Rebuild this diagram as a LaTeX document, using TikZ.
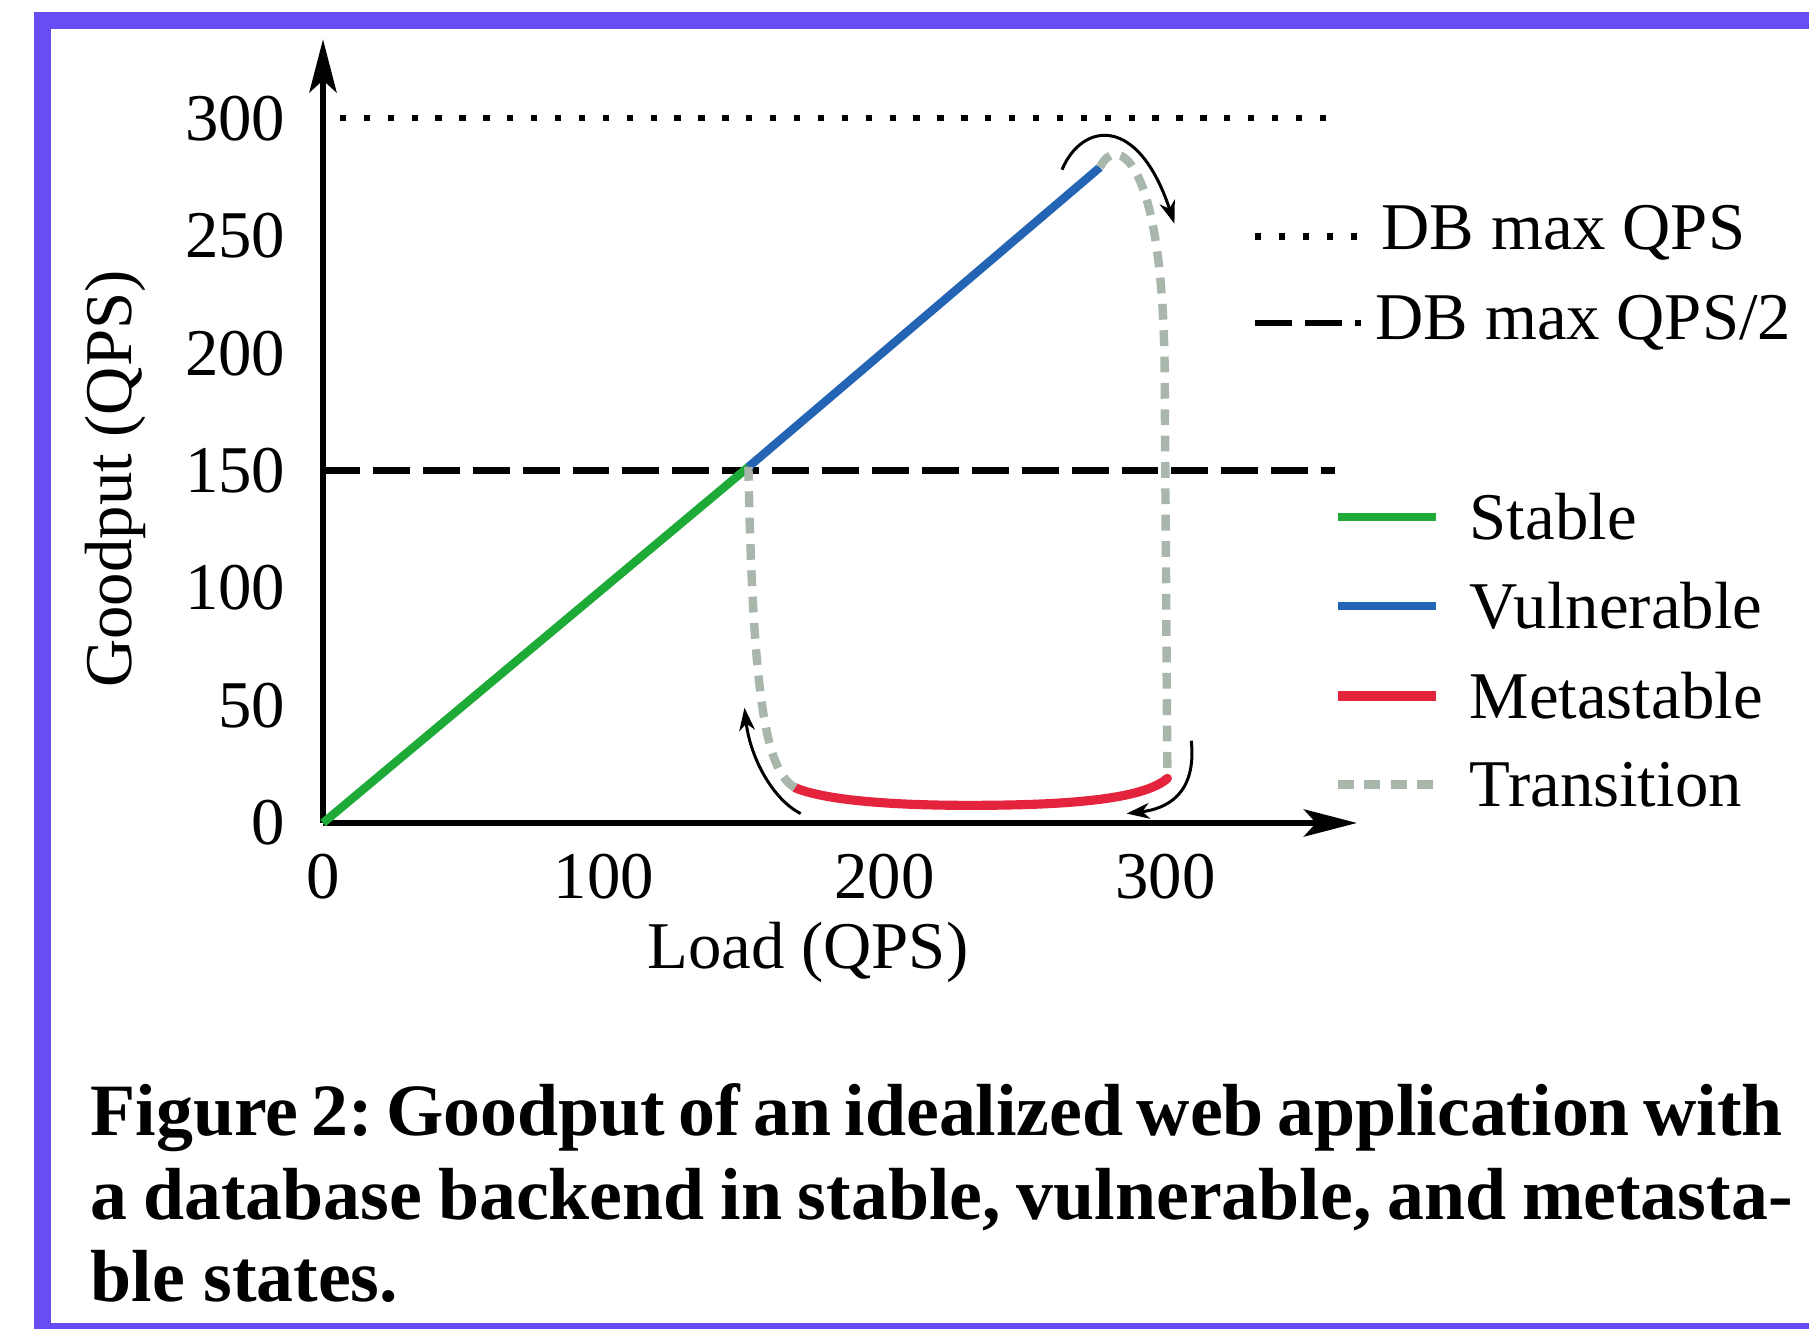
\documentclass[tikz,border=0pt]{standalone}
\usepackage{fontspec}
\setmainfont{Liberation Serif}
\usepackage{tikz}
\usetikzlibrary{arrows.meta,calc,positioning}
\definecolor{framePurple}{RGB}{106,76,245}
\definecolor{stableC}{RGB}{30,170,55}
\definecolor{vulnC}{RGB}{35,100,180}
\definecolor{metaC}{RGB}{228,35,60}
\definecolor{transC}{RGB}{168,182,172}
\tikzset{
  axisline/.style={line width=1.9pt,-{Stealth[length=0.53cm,width=0.27cm,inset=0.12cm]}},
  stableline/.style={stableC,line width=2.4pt},
  vulnline/.style={vulnC,line width=2.4pt},
  metaline/.style={metaC,line width=2.6pt,line cap=round},
  transline/.style={transC,line width=2.4pt,dash pattern=on 4.5pt off 3pt},
  maxdots/.style={line width=1.8pt,dash pattern=on 1.8pt off 5pt},
  halfdash/.style={line width=1.8pt,dash pattern=on 10.5pt off 3.7pt},
  hint/.style={line width=0.85pt,-{Stealth[length=6.5pt,width=4.5pt,inset=2pt]}},
  captext/.style={font=\bfseries\fontsize{21}{25}\selectfont,anchor=base west},
}
\newcommand{\legentry}[4]{%
  \node[anchor=west] (#1) at (11.46cm,#2) {#4};
  \draw[#3] ([xshift=-1.31cm]#1.west) -- ([xshift=-0.33cm]#1.west);}

\begin{document}
\frenchspacing
\begin{tikzpicture}[x=2.81cm,y=2.35cm,font=\fontsize{19}{23}\selectfont,inner sep=0pt]
\useasboundingbox (-3.23cm,-5.06cm) rectangle (14.86cm,8.23cm);
% frame
\draw[framePurple,line width=0.17cm] (15.2cm,-5.085cm) -- (-2.80cm,-5.085cm) -- (-2.80cm,8.025cm) -- (15.2cm,8.025cm);
% reference levels
\coordinate (O) at (0,0);
\coordinate (maxL) at (0.06,3); \coordinate (maxR) at (3.58,3);
\coordinate (halfL) at (0,1.5); \coordinate (halfR) at (3.6,1.5);
\draw[maxdots] (maxL) -- (maxR);
\draw[halfdash] (halfL) -- (halfR);
% axes
\coordinate (ytop) at (0,3.335); \coordinate (xtop) at (3.68,0);
\draw[axisline] (O) -- (ytop);
\draw[axisline] (O) -- (xtop);
\foreach \y in {0,50,...,300} \node[anchor=east] (yt\y) at ([xshift=-0.37cm]0,\y*0.01) {\y};
\foreach \x in {0,100,200,300} \node (xt\x) at ([yshift=-0.54cm]\x*0.01,0) {\x};
\node[rotate=90] (ylab) at (-2.08cm,3.44cm) {Goodput (QPS)};
\node (xlab) at (4.85cm,-1.29cm) {Load (QPS)};
% goodput curve
\coordinate (knee) at (1.514,1.515); \coordinate (vtop) at (2.765,2.79);
\coordinate (mright) at (3.005,0.19); \coordinate (mleft) at (1.68,0.15);
\draw[stableline] (O) -- (knee);
\draw[vulnline] (knee) -- (vtop);
\draw[transline] (vtop) .. controls (2.82,2.93) and (2.985,2.85) .. (2.995,1.95) -- (mright);
\draw[metaline] (mright) .. controls (2.92,0.1) and (2.65,0.075) .. (2.3,0.075) .. controls (2.0,0.075) and (1.78,0.1) .. (mleft);
\draw[transline] (mleft) .. controls (1.58,0.22) and (1.53,0.5) .. (knee);
% direction hints
\coordinate (h1s) at (2.63,2.78); \coordinate (h1e) at (3.03,2.55);
\coordinate (h2s) at (3.09,0.35); \coordinate (h2e) at (2.86,0.04);
\coordinate (h3s) at (1.70,0.04); \coordinate (h3e) at (1.50,0.49);
\draw[hint] (h1s) .. controls (2.70,2.98) and (2.90,3.02) .. (h1e);
\draw[hint] (h2s) .. controls (3.11,0.12) and (3.0,0.06) .. (h2e);
\draw[hint] (h3s) .. controls (1.6,0.1) and (1.52,0.28) .. (h3e);
% legend
\node[anchor=west] (lgMax) at (10.58cm,5.90cm) {DB max QPS};
\draw[maxdots] ([xshift=-1.26cm,yshift=-0.035cm]lgMax.west) -- ([xshift=-0.20cm,yshift=-0.035cm]lgMax.west);
\node[anchor=west] (lgHalf) at (10.52cm,5.0cm) {DB max QPS/2};
\draw[halfdash] ([xshift=-1.20cm]lgHalf.west) -- ([xshift=-0.14cm]lgHalf.west);
\legentry{lgStable}{3.06cm}{stableline}{Stable}
\legentry{lgVuln}{2.17cm}{vulnline}{Vulnerable}
\legentry{lgMeta}{1.27cm}{metaC,line width=2.6pt}{Metastable}
\legentry{lgTrans}{0.385cm}{transline}{Transition}
% caption
\node[captext] (cap1) at (-2.33cm,-3.13cm) {\makebox[16.92cm][s]{Figure 2: Goodput of an idealized web application with}};
\node[captext] (cap2) at ([yshift=-0.84cm]cap1.base west) {\makebox[17.02cm][s]{a database backend in stable, vulnerable, and metasta-}};
\node[captext] (cap3) at ([yshift=-0.82cm]cap2.base west) {ble states.};
\end{tikzpicture}
\end{document}
